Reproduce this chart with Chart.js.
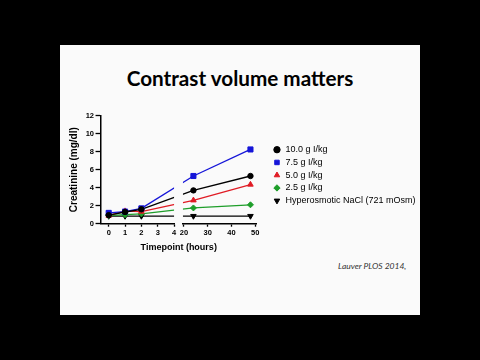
<!DOCTYPE html>
<html>
<head>
<meta charset="utf-8">
<script src="https://cdn.jsdelivr.net/npm/chart.js@4.4.0/dist/chart.umd.min.js"></script>
<style>
  html, body { margin: 0; padding: 0; background: #000; }
  body { width: 480px; height: 360px; position: relative; overflow: hidden; }
  #slide { position: absolute; left: 60px; top: 45px; width: 360px; height: 270px; background: #fafafa; }
  #title { position: absolute; left: 0; top: 21.3px; width: 360px; text-align: center;
           font: bold 20.7px Lato, sans-serif; color: #000; }
  #cite { position: absolute; left: 278px; top: 215.6px; font: italic 8.5px Lato, sans-serif; color: #333; }
  #wrap { position: absolute; left: 0; top: 55px; }
</style>
</head>
<body>
<div id="slide">
  <div id="title">Contrast volume matters</div>
  <div id="wrap"><canvas id="chart" width="380" height="155"></canvas></div>
  <div id="cite">Lauver PLOS 2014,</div>
</div>
<script>
// timepoints in hours; the axis is broken between 4 and 20 h
const TIMEPOINTS = [0, 1, 2, 24, 48];
const SERIES_NAMES = ['10.0 g I/kg', '7.5 g I/kg', '5.0 g I/kg', '2.5 g I/kg', 'Hyperosmotic NaCl (721 mOsm)'];
const DOSE_10 = [0.95, 1.3, 1.6, 3.7, 5.3];
const DOSE_7_5 = [1.2, 1.35, 1.7, 5.3, 8.25];
const DOSE_5 = [0.9, 1.4, 1.35, 2.6, 4.35];
const DOSE_2_5 = [0.9, 1.0, 1.1, 1.75, 2.1];
const NACL = [0.85, 0.85, 0.85, 0.85, 0.85];
const Y_TICKS = [0, 2, 4, 6, 8, 10, 12];
const X_TICKS_EARLY = [0, 1, 2, 3, 4];
const X_TICKS_LATE = [20, 30, 40, 50];

const SERIES = [DOSE_10, DOSE_7_5, DOSE_5, DOSE_2_5, NACL];
const STYLES = [
  { color: '#000000', point: 'circle', radius: 2.7, rotation: 0 },
  { color: '#1515d8', point: 'rect', radius: 3.6, rotation: 0 },
  { color: '#e01b24', point: 'triangle', radius: 3.2, rotation: 0 },
  { color: '#1e9e2a', point: 'rectRot', radius: 3, rotation: 0 },
  { color: '#000000', point: 'triangle', radius: 3.2, rotation: 180 }
];

const FAMILY = "'Liberation Sans', Arial, sans-serif";
const tickFont = { family: FAMILY, size: 7.5, weight: 'bold' };

function points(values, keep) {
  return TIMEPOINTS.map((t, i) => ({ x: t, y: values[i] })).filter(p => keep(p.x));
}

function makeSet(i, axis, keep) {
  const s = STYLES[i];
  return {
    label: SERIES_NAMES[i],
    data: points(SERIES[i], keep),
    xAxisID: axis,
    yAxisID: 'y',
    borderColor: s.color,
    backgroundColor: s.color,
    borderWidth: 1.3,
    pointStyle: s.point,
    pointRadius: s.radius,
    pointRotation: s.rotation,
    pointBorderWidth: 1,
    tension: 0
  };
}

const datasets = [];
SERIES.forEach((v, i) => datasets.push(makeSet(i, 'xa', t => t <= 4)));
SERIES.forEach((v, i) => datasets.push(makeSet(i, 'xb', t => t >= 20)));

// joins the 2 h point to the 24 h point across the axis break
const breakLines = {
  id: 'breakLines',
  beforeDatasetsDraw(chart) {
    const { ctx, chartArea, scales } = chart;
    const n = SERIES.length;
    ctx.save();
    ctx.beginPath();
    ctx.rect(chartArea.left, chartArea.top, scales.xa.right - chartArea.left, chartArea.height);
    ctx.rect(scales.xb.left, chartArea.top, scales.xb.right - scales.xb.left, chartArea.height);
    ctx.clip();
    for (let i = 0; i < n; i++) {
      const a = chart.getDatasetMeta(i).data;
      const b = chart.getDatasetMeta(i + n).data;
      const p = a[a.length - 1], q = b[0];
      ctx.beginPath();
      ctx.moveTo(p.x, p.y);
      ctx.lineTo(q.x, q.y);
      ctx.strokeStyle = STYLES[i].color;
      ctx.lineWidth = 1.3;
      ctx.stroke();
    }
    ctx.restore();
  }
};

const axisGrid = len => ({ display: true, drawOnChartArea: false, drawTicks: true, tickLength: len, tickWidth: 1.3, tickColor: '#000' });
const axisBorder = () => ({ display: true, color: '#000', width: 1.5 });
const hidden = () => ({ ticks: { display: false }, grid: { display: false, drawTicks: false }, border: { display: false } });

new Chart(document.getElementById('chart'), {
  type: 'line',
  data: { datasets },
  plugins: [breakLines],
  options: {
    responsive: false,
    animation: false,
    layout: { padding: { top: 15.7, left: 4.2, right: 14.5, bottom: 1.5 } },
    plugins: {
      tooltip: { enabled: false },
      title: {
        display: true, text: 'Timepoint (hours)', position: 'bottom', fullSize: false, align: 'center',
        color: '#000', font: { family: FAMILY, size: 9, weight: 'bold' }, padding: { top: 2, bottom: 1 }
      },
      legend: {
        position: 'right',
        align: 'start',
        maxWidth: 200,
        title: { display: true, text: ' ', font: { family: FAMILY, size: 10 }, padding: { top: 13.75, bottom: 0 } },
        labels: {
          usePointStyle: true, boxWidth: 8, boxHeight: 4.5, padding: 3.75,
          font: { family: FAMILY, size: 9 }, color: '#000',
          filter: item => item.datasetIndex < SERIES.length
        }
      }
    },
    scales: {
      y: {
        type: 'linear', position: 'left', min: 0, max: 12,
        afterBuildTicks: s => { s.ticks = Y_TICKS.map(v => ({ value: v })); },
        ticks: { font: tickFont, color: '#000', padding: 1.5 },
        grid: axisGrid(5),
        border: axisBorder(),
        title: { display: true, text: 'Creatinine (mg/dl)', color: '#000',
                 font: { family: FAMILY, size: 10, weight: 'bold' }, padding: { top: 4, bottom: 4 } }
      },
      yr: {
        type: 'linear', position: 'right', display: true, ...hidden(),
        afterFit: s => { s.width = 12.35; }
      },
      xa: {
        type: 'linear', position: 'bottom', stack: 'time', stackWeight: 74.3, min: -0.5, max: 4,
        afterBuildTicks: s => { s.ticks = X_TICKS_EARLY.map(v => ({ value: v })); },
        ticks: { font: tickFont, color: '#000', padding: 2, maxRotation: 0, autoSkip: false },
        grid: axisGrid(3),
        border: axisBorder()
      },
      xgap: {
        type: 'linear', position: 'bottom', stack: 'time', stackWeight: 9, display: true, ...hidden()
      },
      xb: {
        type: 'linear', position: 'bottom', stack: 'time', stackWeight: 74.7, min: 19.6, max: 50.7,
        afterBuildTicks: s => { s.ticks = X_TICKS_LATE.map(v => ({ value: v })); },
        ticks: { font: tickFont, color: '#000', padding: 2, maxRotation: 0, autoSkip: false },
        grid: axisGrid(3),
        border: axisBorder()
      }
    }
  }
});
</script>
</body>
</html>
